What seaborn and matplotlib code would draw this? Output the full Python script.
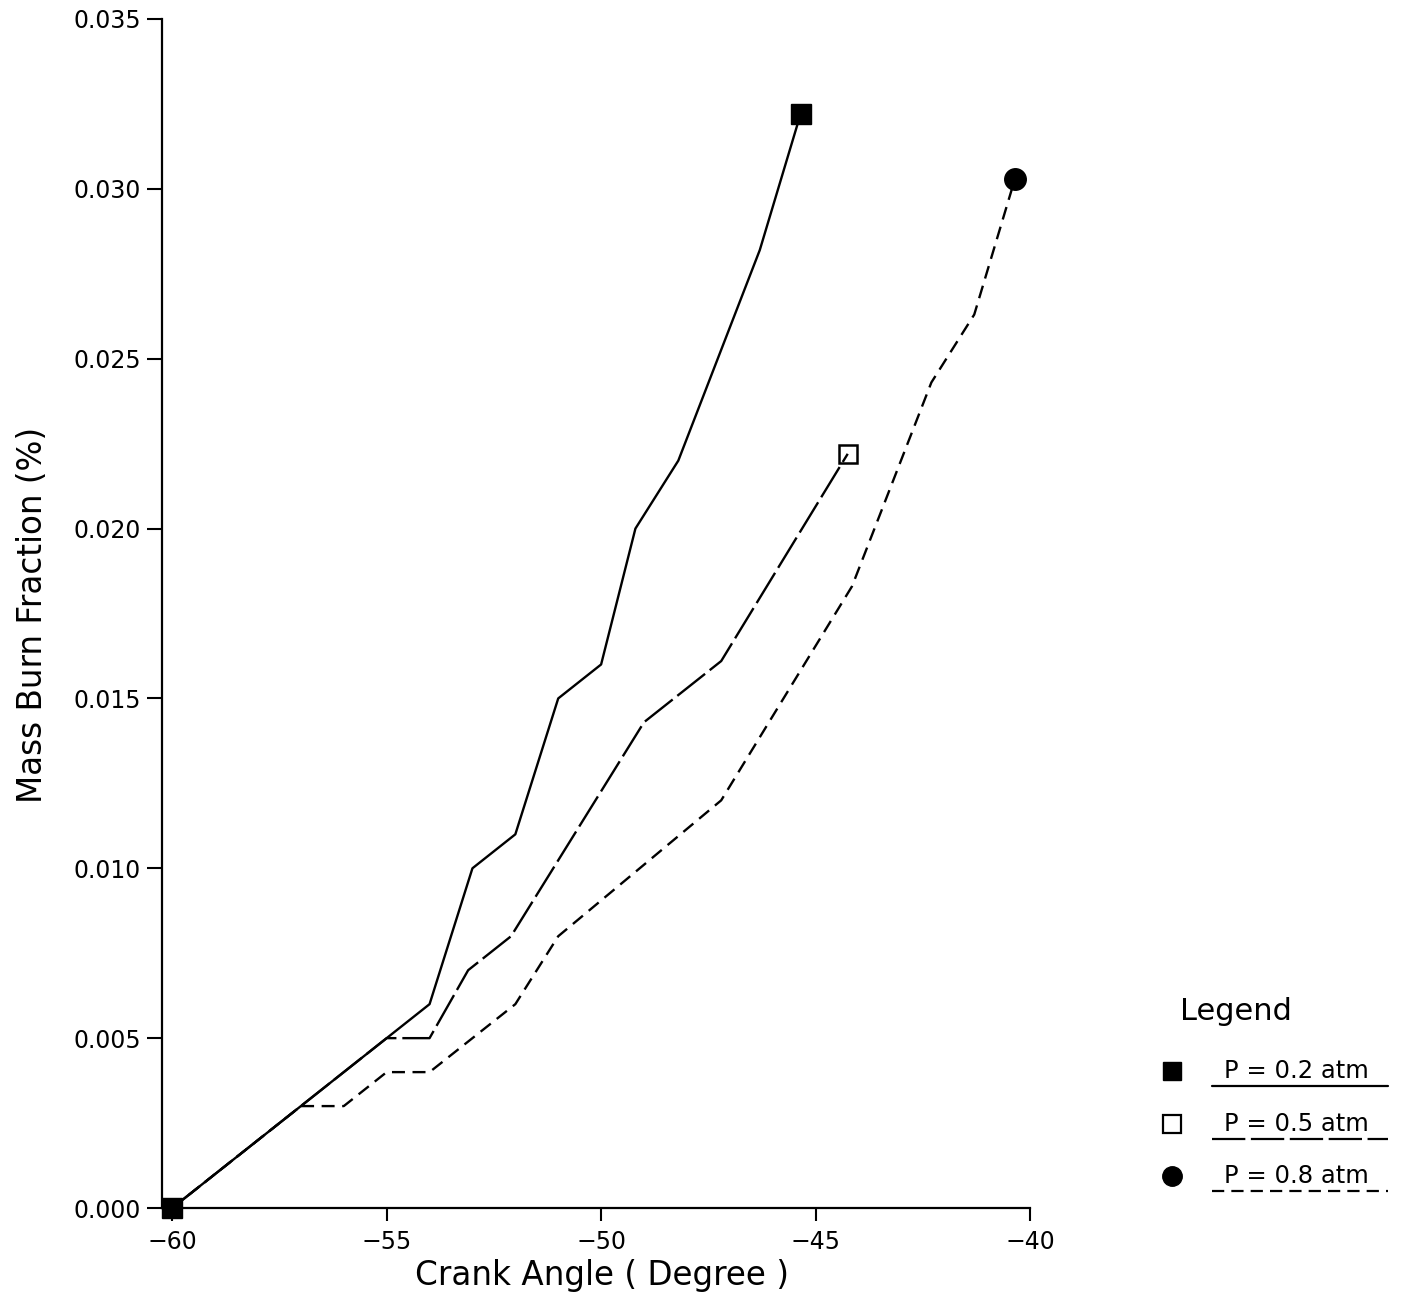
import matplotlib
matplotlib.use("Agg")
import matplotlib.pyplot as plt
from matplotlib.lines import Line2D
from matplotlib.ticker import FormatStrFormatter
import pandas as pd
import seaborn as sns

# Mass burn fraction versus crank angle for three initial pressures
angle_p02 = [-60, -57, -54, -53, -52, -51, -50, -49.2, -48.2, -46.3, -45.35]
burn_p02 = [0.000, 0.003, 0.006, 0.010, 0.011, 0.015, 0.016, 0.020, 0.022, 0.0282, 0.0322]

angle_p05 = [-60, -57, -55, -54, -53.1, -52.1, -49.0, -47.2, -44.25]
burn_p05 = [0.000, 0.003, 0.005, 0.005, 0.007, 0.008, 0.0143, 0.0161, 0.0222]

angle_p08 = [-60, -57, -56, -55, -54, -52, -51, -47.2, -44.15, -42.3, -41.3, -40.35]
burn_p08 = [0.000, 0.003, 0.003, 0.004, 0.004, 0.006, 0.008, 0.012, 0.0183, 0.0243, 0.0263, 0.0303]

series_labels = ["P = 0.2 atm", "P = 0.5 atm", "P = 0.8 atm"]
x_ticks = [-60, -55, -50, -45, -40]
y_ticks = [0.000, 0.005, 0.010, 0.015, 0.020, 0.025, 0.030, 0.035]

sns.set_style("ticks")
plt.rcParams["font.family"] = ["DejaVu Sans"]
for key in ("text.color", "axes.labelcolor", "xtick.color", "ytick.color", "axes.edgecolor"):
    plt.rcParams[key] = "black"

W, H = 1407, 1301
fig = plt.figure(figsize=(W / 100, H / 100), dpi=100)
ax = fig.add_axes([161.5 / W, 1 - 1208 / H, (1030 - 161.5) / W, (1208 - 19) / H])


def fx(px):
    return px / W


def fy(py):
    return 1 - py / H


LW = 1.7
solid = "-"
long_dash = (0, (15, 2.5))
short_dash = (0, (5.5, 3.2))

frames = {
    "p02": pd.DataFrame({"angle": angle_p02, "burn": burn_p02}),
    "p05": pd.DataFrame({"angle": angle_p05, "burn": burn_p05}),
    "p08": pd.DataFrame({"angle": angle_p08, "burn": burn_p08}),
}

# curves: dashed first so the shared solid start sits on top
sns.lineplot(data=frames["p08"], x="angle", y="burn", ax=ax, sort=False,
             estimator=None, color="black", lw=LW, linestyle=short_dash)
sns.lineplot(data=frames["p05"], x="angle", y="burn", ax=ax, sort=False,
             estimator=None, color="black", lw=LW, linestyle=long_dash)
sns.lineplot(data=frames["p02"], x="angle", y="burn", ax=ax, sort=False,
             estimator=None, color="black", lw=LW, linestyle=solid)

# end-point symbols
ax.plot([angle_p02[0], angle_p02[-1]], [burn_p02[0], burn_p02[-1]], ls="none",
        marker="s", ms=15, mfc="black", mec="black", clip_on=False, zorder=5)
ax.plot([angle_p05[-1]], [burn_p05[-1]], ls="none", marker="s", ms=13.5,
        mfc="none", mec="black", mew=1.8, clip_on=False, zorder=5)
ax.plot([angle_p08[-1]], [burn_p08[-1]], ls="none", marker="o", ms=15.5,
        mfc="black", mec="black", clip_on=False, zorder=5)

ax.set_xlim(-60.25, -40)
ax.set_ylim(0, 0.035)
ax.set_xticks(x_ticks)
ax.set_yticks(y_ticks)
ax.yaxis.set_major_formatter(FormatStrFormatter("%.3f"))
ax.tick_params(axis="x", direction="out", length=9, width=1.5, pad=7, labelsize=17)
ax.tick_params(axis="y", direction="out", length=11, width=1.5, pad=4, labelsize=17)
for side in ("top", "right"):
    ax.spines[side].set_visible(False)
for side in ("left", "bottom"):
    ax.spines[side].set_linewidth(1.6)

ax.set_xlabel("Crank Angle ( Degree )", fontsize=23.5)
ax.set_ylabel("Mass Burn Fraction (%)", fontsize=23.5)
ax.xaxis.set_label_coords((602 - 161.5) / 868.5, (1208 - 1276) / 1189)
ax.yaxis.set_label_coords((33 - 161.5) / 868.5, (1208 - 615) / 1189)
ax.xaxis.label.set_va("center")
ax.yaxis.label.set_va("center")

# legend block
fig.text(fx(1180), fy(1012), "Legend", fontsize=22, ha="left", va="center")
entry_y = [1071, 1124, 1176]
marker_kw = [
    dict(marker="s", ms=12.5, mfc="black", mec="black"),
    dict(marker="s", ms=12.5, mfc="white", mec="black", mew=1.6),
    dict(marker="o", ms=14, mfc="black", mec="black"),
]
styles = [solid, long_dash, short_dash]
for yy, lab, mk, st in zip(entry_y, series_labels, marker_kw, styles):
    fig.add_artist(Line2D([fx(1172)], [fy(yy)], transform=fig.transFigure,
                          ls="none", **mk))
    fig.text(fx(1224), fy(yy), lab, fontsize=17.5, ha="left", va="center")
    fig.add_artist(Line2D([fx(1212), fx(1388)], [fy(yy + 15), fy(yy + 15)],
                          transform=fig.transFigure, color="black", lw=1.6,
                          linestyle=st))

fig.savefig("out.png", dpi=100, facecolor="white")
